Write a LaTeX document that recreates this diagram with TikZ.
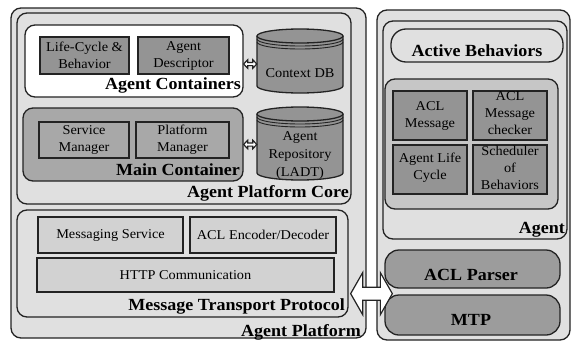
\documentclass[tikz,border=0pt]{standalone}
\usepackage{fontspec}
\setmainfont[FakeStretch=1.06]{Liberation Serif}
\usetikzlibrary{fit,calc}

\definecolor{ink}{RGB}{35,35,35}
\definecolor{pale}{RGB}{224,224,224}
\definecolor{softgray}{RGB}{210,210,210}
\definecolor{groupgray}{RGB}{198,198,198}
\definecolor{maingray}{RGB}{168,168,168}
\definecolor{darkgray}{RGB}{148,148,148}
\definecolor{layergray}{RGB}{156,156,156}

\newcommand{\smalltext}{\fontsize{13.5}{17}\selectfont}
\newcommand{\titletext}{\fontsize{17}{20}\selectfont\bfseries}

% database drum: x-left, x-right, y-top, y-bottom (y grows downwards)
\newcommand{\drum}[4]{%
  \pgfmathsetmacro\drumrx{(#2-#1)/2}%
  \pgfmathsetmacro\drumcx{(#2+#1)/2}%
  \fill[darkgray] (#1,#3+7) -- (#1,#4-7)
     arc[start angle=180,end angle=0,x radius=\drumrx,y radius=7]
     -- (#2,#3+7) arc[start angle=0,end angle=-180,x radius=\drumrx,y radius=7] -- cycle;
  \draw[ink,line width=1.3pt] (#1,#3+7) -- (#1,#4-7)
     arc[start angle=180,end angle=0,x radius=\drumrx,y radius=7] -- (#2,#3+7);
  \draw[ink,line width=1.3pt,fill=darkgray] (\drumcx,#3+7) ellipse[x radius=\drumrx,y radius=7];
  \draw[ink,line width=0.9pt] (#1,#3+10) arc[start angle=180,end angle=0,x radius=\drumrx,y radius=7];
  \draw[ink,line width=0.9pt] (#1,#3+13) arc[start angle=180,end angle=0,x radius=\drumrx,y radius=7];
}

% hollow two-way arrow: from, to, head length, half shaft, half head
\newcommand{\twoway}[5]{%
  \draw[ink,line width=1.2pt,fill=white,line join=miter] let \p1=#1, \p2=#2 in
    (\x1,\y1) -- (\x1+#3pt,\y1+#5pt) -- (\x1+#3pt,\y1+#4pt) -- (\x2-#3pt,\y1+#4pt)
    -- (\x2-#3pt,\y1+#5pt) -- (\x2,\y1) -- (\x2-#3pt,\y1-#5pt) -- (\x2-#3pt,\y1-#4pt)
    -- (\x1+#3pt,\y1-#4pt) -- (\x1+#3pt,\y1-#5pt) -- cycle;
}

\begin{document}
\begin{tikzpicture}[x=1pt,y=-1pt,
  frame/.style={draw=ink,line width=1.3pt,rounded corners=10pt,inner sep=0pt},
  part/.style={draw=ink,line width=1.3pt,inner sep=0pt},
  title/.style={font=\titletext,inner sep=0pt},
  txt/.style={font=\smalltext,align=center,inner sep=0pt}]
\useasboundingbox[fill=white] (0,0) rectangle (573,343);

% ---------------- agent platform ----------------
\node[frame,fill=pale,fit={(11,8)(366,338)}] (ap) {};
\node[title,anchor=base east] (apT) at (361,336) {Agent Platform};

\node[frame,fill=pale,fit={(17,13)(351,204)}] (apc) {};
\node[title,anchor=base east] (apcT) at (349,197) {Agent Platform Core};

\node[frame,fill=white,fit={(25,25)(243,97)}] (ac) {};
\node[title,anchor=base east] (acT) at (241,89) {Agent Containers};
\node[part,fill=darkgray,fit={(40,37)(129,74)}] (lcb) {};
\node[txt] (lcbT) at (lcb.center) {Life-Cycle \&\\Behavior};
\node[part,fill=darkgray,fit={(138,37)(229,74)}] (ad) {};
\node[txt] (adT) at (ad.center) {Agent\\Descriptor};

\node[inner sep=0pt,fit={(257,29)(343,93)}] (cdb) {};
\drum{257}{343}{29}{93}
\node[txt] (cdbT) at (300,73) {Context DB};

\node[frame,fill=maingray,fit={(23,108)(243,181)}] (mc) {};
\node[title,anchor=base east] (mcT) at (240,175) {Main Container};
\node[part,fill=maingray,fit={(39,122)(129,158)}] (sm) {};
\node[txt] (smT) at (sm.center) {Service\\Manager};
\node[part,fill=maingray,fit={(136,122)(229,158)}] (pm) {};
\node[txt] (pmT) at (pm.center) {Platform\\Manager};

\node[inner sep=0pt,fit={(257,107)(343,180)}] (ladt) {};
\drum{257}{343}{107}{180}
\node[txt,font=\fontsize{13.5}{18}\selectfont] (ladtT) at (300,155) {Agent\\Repository\\(LADT)};

\twoway{($(ac.east)+(0,3)$)}{($(cdb.west)+(0,3)$)}{4}{1.6}{4.2}
\twoway{(mc.east)}{(ladt.west)}{4}{1.6}{4.2}

\node[frame,fill=pale,fit={(17,210)(348,317)}] (mtpbox) {};
\node[title,anchor=base east] (mtpboxT) at (345,310) {Message Transport Protocol};
\node[part,fill=softgray,fit={(38,217)(183,253)}] (ms) {};
\node[txt] (msT) at (ms.center) {Messaging Service};
\node[part,fill=softgray,fit={(190,217)(336,253)}] (aed) {};
\node[txt] (aedT) at (aed.center) {ACL Encoder/Decoder};
\node[part,fill=softgray,fit={(37,258)(334,292)}] (http) {};
\node[txt] (httpT) at (http.center) {HTTP Communication};

% ---------------- agent side ----------------
\node[frame,fill=pale,fit={(377,10)(570,340)}] (side) {};
\node[frame,fill=pale,fit={(383,21)(567,239)}] (agent) {};
\node[title,anchor=base east] (agentT) at (565,233) {Agent};
\node[frame,rounded corners=15pt,fill=pale,fit={(391,29)(563,62)}] (ab) {};
\node[title,anchor=base] (abT) at (477,56) {Active Behaviors};

\node[frame,fill=groupgray,fit={(385,79)(558,209)}] (core) {};
\node[part,fill=darkgray,fit={(393,91)(467,140)}] (am) {};
\node[txt] (amT) at (am.center) {ACL\\Message};
\node[part,fill=darkgray,fit={(473,91)(547,140)}] (amc) {};
\node[txt] (amcT) at ($(amc.center)+(0,-2)$) {ACL\\Message\\checker};
\node[part,fill=darkgray,fit={(393,145)(467,194)}] (alc) {};
\node[txt] (alcT) at ($(alc.center)+(0,-2)$) {Agent Life\\Cycle};
\node[part,fill=darkgray,fit={(473,145)(547,194)}] (sch) {};
\node[txt] (schT) at ($(sch.center)+(0,-2)$) {Scheduler\\of\\Behaviors};

\node[frame,rounded corners=14pt,fill=layergray,fit={(385,250)(560,288)}] (parser) {};
\node[title,anchor=base] (parserT) at (471,280) {ACL Parser};
\node[frame,rounded corners=14pt,fill=layergray,fit={(385,295)(560,335)}] (rmtp) {};
\node[title,anchor=base] (rmtpT) at (471,325) {MTP};

% transport link between the platform and the agent
\twoway{($(mtpbox.south east)+(2,-24)$)}{($(rmtp.west)+(8,0)$)}{12}{6.5}{21}
\end{tikzpicture}
\end{document}
